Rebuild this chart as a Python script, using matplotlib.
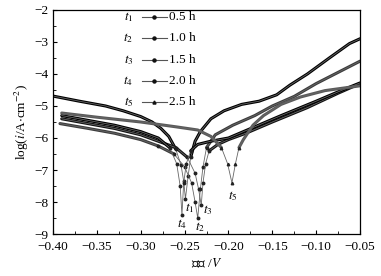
import numpy as np
import matplotlib.pyplot as plt

plt.rcParams['font.family'] = ['Liberation Serif', 'Noto Sans CJK SC']
plt.rcParams['mathtext.fontset'] = 'stix'

# Tafel curves: potential (V) and log(i)
e_t1 = [-0.400, -0.370, -0.340, -0.320, -0.300, -0.287, -0.277, -0.268, -0.260, -0.254, -0.251, -0.249,
        -0.246, -0.243, -0.238, -0.232, -0.220, -0.205, -0.185, -0.165, -0.145, -0.130, -0.110,
        -0.085, -0.062, -0.050]
y_t1 = [-4.69, -4.85, -5.00, -5.15, -5.33, -5.50, -5.70, -5.95, -6.35, -6.85, -7.35, -7.90,
        -7.20, -6.60, -6.10, -5.80, -5.40, -5.15, -4.95, -4.85, -4.65, -4.35, -4.00,
        -3.50, -3.05, -2.90]

e_t2 = [-0.392, -0.360, -0.330, -0.300, -0.280, -0.262, -0.250, -0.242, -0.238, -0.235,
        -0.232, -0.229, -0.225, -0.215, -0.195, -0.170, -0.150, -0.125, -0.100, -0.075, -0.050]
y_t2 = [-5.55, -5.70, -5.85, -6.05, -6.25, -6.50, -6.90, -7.40, -8.00, -8.50,
        -7.60, -6.90, -6.30, -5.90, -5.60, -5.30, -5.00, -4.70, -4.30, -3.95, -3.60]

e_t3 = [-0.390, -0.360, -0.330, -0.300, -0.280, -0.260, -0.247, -0.238, -0.234, -0.231,
        -0.229, -0.226, -0.222, -0.212, -0.200, -0.180, -0.150, -0.110, -0.075, -0.050]
y_t3 = [-5.40, -5.55, -5.70, -5.90, -6.10, -6.30, -6.60, -7.10, -7.60, -8.10,
        -7.40, -6.80, -6.40, -6.20, -6.05, -5.85, -5.50, -5.05, -4.60, -4.30]

e_t4 = [-0.390, -0.360, -0.330, -0.300, -0.280, -0.267, -0.259, -0.255, -0.253,
        -0.251, -0.248, -0.243, -0.235, -0.220, -0.200, -0.170, -0.140, -0.100, -0.070, -0.050]
y_t4 = [-5.30, -5.45, -5.60, -5.80, -6.00, -6.30, -6.80, -7.50, -8.40,
        -7.40, -6.80, -6.40, -6.20, -6.10, -6.00, -5.65, -5.30, -4.85, -4.50, -4.28]

e_t5 = [-0.390, -0.350, -0.300, -0.260, -0.235, -0.220, -0.208, -0.201, -0.196,
        -0.192, -0.188, -0.183, -0.172, -0.160, -0.140, -0.118, -0.090, -0.050]
y_t5 = [-5.22, -5.35, -5.50, -5.65, -5.75, -5.95, -6.30, -6.80, -7.40,
        -6.80, -6.30, -6.05, -5.60, -5.30, -4.95, -4.72, -4.52, -4.37]

labels = ['0.5 h', '1.0 h', '1.5 h', '2.0 h', '2.5 h']
tags = ['$t_1$', '$t_2$', '$t_3$', '$t_4$', '$t_5$']
# where each t label sits below its curve's minimum
tag_dx = [0.005, 0.003, 0.007, 0.000, 0.001]
tag_dy = [-0.29, -0.28, -0.15, -0.29, -0.41]

colors = ['#000000', '#3c3c3c', '#111111', '#000000', '#5a5a5a']
markers = ['o', 'o', 'o', 'o', '^']
curves = [(e_t1, y_t1), (e_t2, y_t2), (e_t3, y_t3), (e_t4, y_t4), (e_t5, y_t5)]

fig = plt.figure(figsize=(3.81, 2.76), dpi=100)
ax = fig.add_axes([0.139, 0.152, 0.806, 0.812])

for (e, y), c, m in zip(curves, colors, markers):
    e = np.array(e)
    y = np.array(y)
    thick = np.where(y > -6.8, y, np.nan)
    ax.plot(e, thick, color=c, lw=2.2, solid_capstyle='round')
    ax.plot(e, y, color='#666666', lw=0.6)
    low = y < -6.2
    ax.plot(e[low], y[low], ls='none', marker=m, ms=1.8, color='#222222')

for (e, y), tag, dx, dy in zip(curves, tags, tag_dx, tag_dy):
    i = int(np.argmin(y))
    ax.text(e[i] + dx, y[i] + dy, tag, fontsize=9.5, ha='center', va='center')

# legend drawn by hand: t_i  —•—  time
for k in range(5):
    yy = 0.968 - k * 0.095
    ax.text(0.262, yy, tags[k], transform=ax.transAxes, fontsize=9.5, ha='right', va='center')
    ax.plot([0.29, 0.371], [yy, yy], transform=ax.transAxes, color='#555555', lw=0.8)
    ax.plot([0.33], [yy], transform=ax.transAxes, marker=markers[k], ms=2.2, color='#111111')
    ax.text(0.378, yy, labels[k], transform=ax.transAxes, fontsize=9.5, ha='left', va='center')

ax.set_xlim(-0.40, -0.05)
ax.set_ylim(-9, -2)
ax.set_xticks(np.arange(-0.40, -0.049, 0.05))
ax.set_xticklabels(['\u22120.40', '\u22120.35', '\u22120.30', '\u22120.25', '\u22120.20',
                    '\u22120.15', '\u22120.10', '\u22120.05'])
ax.set_xticks(np.arange(-0.375, -0.05, 0.05), minor=True)
ax.set_yticks(np.arange(-9, -1.9, 1))
ax.set_yticks(np.arange(-8.5, -2, 1), minor=True)
ax.tick_params(which='both', direction='in', labelsize=9.5, top=False, right=False)
ax.tick_params(axis='x', pad=5)
ax.tick_params(which='major', length=3)
ax.tick_params(which='minor', length=2)
for s in ax.spines.values():
    s.set_linewidth(0.9)

ax.set_xlabel('电位 /$V$', fontsize=9.5, labelpad=3)
ax.set_ylabel('log($i$/A$\\cdot$cm$^{-2}$)', fontsize=9.5, labelpad=2)

fig.savefig('out.png', dpi=100)
